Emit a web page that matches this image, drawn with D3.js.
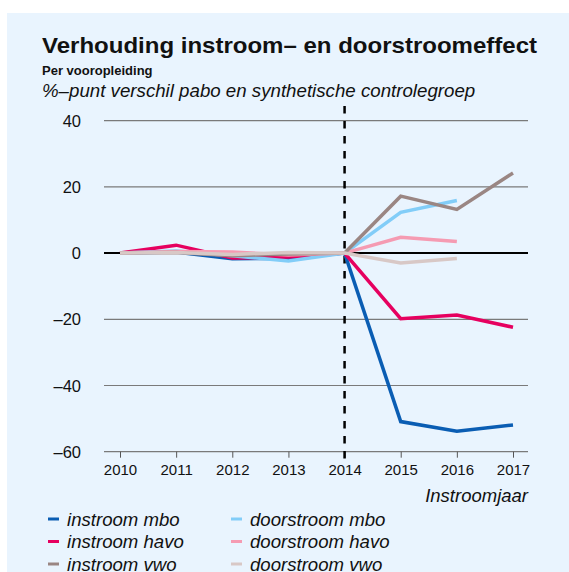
<!DOCTYPE html>
<html><head><meta charset="utf-8">
<script src="https://cdn.jsdelivr.net/npm/d3@7"></script>
<style>body{margin:0;background:#fff;} svg{display:block;font-family:"Liberation Sans",Arial,sans-serif;}</style>
</head><body>
<svg id="c" width="569" height="572"></svg>
<script>
const years = [2010, 2011, 2012, 2013, 2014, 2015, 2016, 2017];
const yTicks = [40, 20, 0, -20, -40, -60];
const instroomMbo  = [0, 0.3, -1.7, -1.6, 0, -50.9, -53.8, -51.9];
const instroomHavo = [0, 2.4, -1.5, -1.2, 0, -19.8, -18.7, -22.4];
const instroomVwo  = [0, 0.2, -0.8, -0.3, 0, 17.2, 13.2, 24.2];
const doorMbo  = [0, 0.6, -0.8, -2.4, 0, 12.3, 15.9];
const doorHavo = [0, 0.5, 0.3, -0.6, 0, 4.8, 3.5];
const doorVwo  = [0, 0.2, -0.4, 0.2, 0, -3.0, -1.6];
const seriesNames = ["instroom mbo","instroom havo","instroom vwo","doorstroom mbo","doorstroom havo","doorstroom vwo"];
const seriesColors = ["#0a5db3","#e6005f","#9a8683","#82cdf8","#f59bb2","#d8c8c6"];
const seriesValues = [instroomMbo, instroomHavo, instroomVwo, doorMbo, doorHavo, doorVwo];

const svg = d3.select("#c");
svg.append("rect").attr("x",7).attr("y",13).attr("width",562).attr("height",559).attr("fill","#e9f4fe");

const x = d3.scaleLinear().domain([2010,2017]).range([120,513]);
const y = d3.scaleLinear().domain([-60,40]).range([451.7,120.7]);

svg.append("text").attr("x",42).attr("y",53).attr("font-size",22).attr("font-weight","bold").attr("fill","#111")
  .attr("textLength",495).attr("lengthAdjust","spacingAndGlyphs")
  .text("Verhouding instroom– en doorstroomeffect");
svg.append("text").attr("x",42).attr("y",75).attr("font-size",13).attr("font-weight","bold").attr("fill","#111")
  .text("Per vooropleiding");
svg.append("text").attr("x",42).attr("y",97).attr("font-size",18.7).attr("font-style","italic").attr("fill","#111")
  .text("%–punt verschil pabo en synthetische controlegroep");

// gridlines
const grid = svg.append("g");
grid.selectAll("line").data(yTicks).enter().append("line")
  .attr("x1",104).attr("x2",528).attr("y1",d=>y(d)).attr("y2",d=>y(d))
  .attr("stroke",d=>d===0?"#000":"#7a7a7a").attr("stroke-width",d=>d===0?2:1.2);

// y labels
svg.append("g").selectAll("text").data(yTicks).enter().append("text")
  .attr("x",81).attr("y",d=>y(d)+6).attr("text-anchor","end").attr("font-size",16.5).attr("fill","#111")
  .text(d=>d<0?"–"+Math.abs(d):d);

// x axis
const xAxis = d3.axisBottom(x).tickValues(years).tickFormat(d3.format("d")).tickSize(6).tickPadding(7);
const xg = svg.append("g").attr("transform",`translate(0,${y(-60)})`).call(xAxis);
xg.select(".domain").remove();
xg.selectAll(".tick line").attr("stroke","#555").attr("stroke-width",1);
xg.selectAll(".tick text").attr("font-size",15).attr("fill","#111").attr("font-family","Liberation Sans, Arial, sans-serif");

svg.append("text").attr("x",528).attr("y",502).attr("text-anchor","end").attr("font-size",18.5)
  .attr("font-style","italic").attr("fill","#111").text("Instroomjaar");

// dashed line at 2014
svg.append("line").attr("x1",x(2014)).attr("x2",x(2014)).attr("y1",106).attr("y2",463)
  .attr("stroke","#000").attr("stroke-width",2.5).attr("stroke-dasharray","7.5,7.5");

// lines
const line = d3.line().x((d,i)=>x(years[i])).y(d=>y(d));
const order = [0,1,3,4,2,5];
svg.append("g").selectAll("path").data(order).enter().append("path")
  .attr("d",i=>line(seriesValues[i])).attr("fill","none")
  .attr("stroke",i=>seriesColors[i]).attr("stroke-width",3.5).attr("stroke-linejoin","miter");

// legend
const leg = svg.append("g");
seriesNames.forEach((n,i)=>{
  const col = Math.floor(i/3), row = i%3;
  const lx = col===0?48:231, ly = 519 + row*22.5;
  leg.append("line").attr("x1",lx).attr("x2",lx+11).attr("y1",ly).attr("y2",ly)
    .attr("stroke",seriesColors[i]).attr("stroke-width",3);
  leg.append("text").attr("x",lx+19).attr("y",ly+6.5).attr("font-size",18.6).attr("font-style","italic")
    .attr("fill","#111").text(n);
});
</script>
</body></html>
